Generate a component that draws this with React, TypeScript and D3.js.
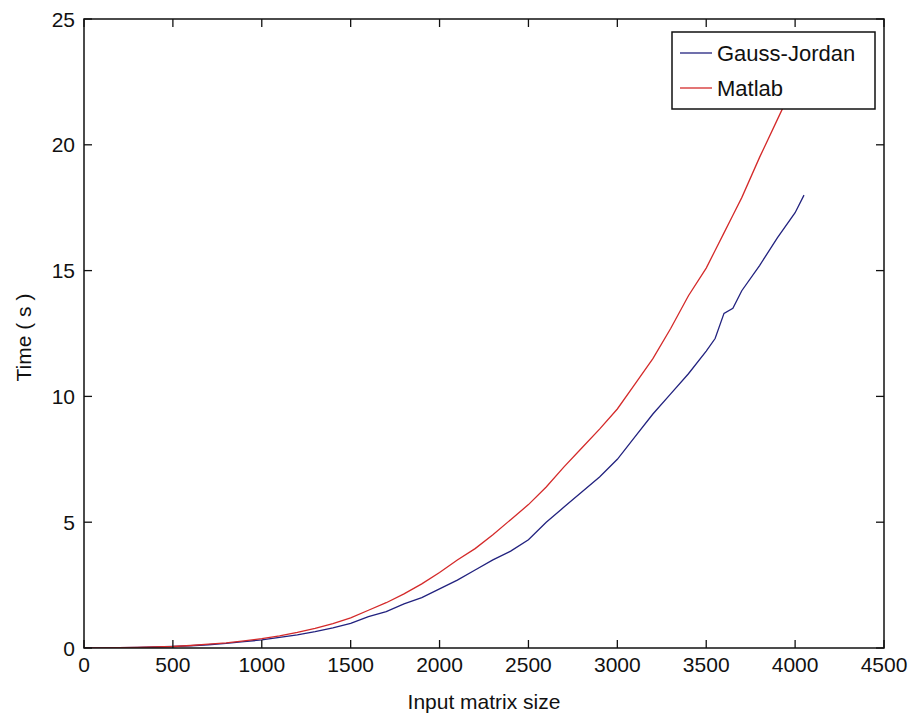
import React, { useEffect, useRef } from "react";
import * as d3 from "d3";

const sizes = [0, 100, 200, 300, 400, 500, 600, 700, 800, 900, 1000, 1100, 1200, 1300, 1400, 1500, 1600, 1700, 1800, 1900, 2000, 2100, 2200, 2300, 2400, 2500, 2600, 2700, 2800, 2900, 3000, 3100, 3200, 3300, 3400, 3500, 3550, 3600, 3650, 3700, 3800, 3900, 4000, 4050];
const gaussJordan = [0, 0.003, 0.01, 0.02, 0.04, 0.06, 0.09, 0.13, 0.18, 0.25, 0.32, 0.42, 0.52, 0.65, 0.8, 0.98, 1.25, 1.45, 1.75, 2.0, 2.35, 2.7, 3.1, 3.5, 3.85, 4.3, 5.0, 5.6, 6.2, 6.8, 7.5, 8.4, 9.3, 10.1, 10.9, 11.8, 12.3, 13.3, 13.5, 14.2, 15.2, 16.3, 17.3, 18.0];
const matlab = [0, 0.003, 0.01, 0.02, 0.04, 0.06, 0.1, 0.15, 0.2, 0.28, 0.37, 0.48, 0.62, 0.78, 0.97, 1.2, 1.5, 1.8, 2.15, 2.55, 3.0, 3.5, 3.95, 4.5, 5.1, 5.7, 6.4, 7.2, 7.95, 8.7, 9.5, 10.5, 11.5, 12.7, 14.0, 15.1, 15.8, 16.5, 17.2, 17.9, 19.5, 21.0, 22.5, 23.2];
const xTicks = [0, 500, 1000, 1500, 2000, 2500, 3000, 3500, 4000, 4500];
const yTicks = [0, 5, 10, 15, 20, 25];
const seriesNames = ["Gauss-Jordan", "Matlab"];
const seriesColors = ["#22227f", "#d42a2a"];

const W = 911, H = 717;
const L = 84, R = 884, T = 19, B = 648;
const FONT = "'Liberation Sans', Arial, sans-serif";

export default function App() {
  const ref = useRef<SVGSVGElement>(null);
  useEffect(() => {
    const svg = d3.select(ref.current);
    svg.selectAll("*").remove();
    const x = d3.scaleLinear().domain([0, 4500]).range([L, R]);
    const y = d3.scaleLinear().domain([0, 25]).range([B, T]);

    svg.append("rect").attr("width", W).attr("height", H).attr("fill", "#fff");

    const clip = svg.append("defs").append("clipPath").attr("id", "plotclip");
    clip.append("rect").attr("x", L).attr("y", T).attr("width", R - L).attr("height", B - T);

    const line = d3.line<[number, number]>().x(d => x(d[0])).y(d => y(d[1]));
    const data = [gaussJordan, matlab];
    data.forEach((vals, i) => {
      svg.append("path")
        .attr("d", line(sizes.map((s, j) => [s, vals[j]] as [number, number])) || "")
        .attr("fill", "none")
        .attr("stroke", seriesColors[i])
        .attr("stroke-width", 1.3)
        .attr("clip-path", "url(#plotclip)");
    });

    // frame
    svg.append("rect").attr("x", L).attr("y", T).attr("width", R - L).attr("height", B - T)
      .attr("fill", "none").attr("stroke", "#111").attr("stroke-width", 1.5);

    const tl = 8;
    const g = svg.append("g").attr("stroke", "#111").attr("stroke-width", 1.3);
    xTicks.forEach(t => {
      g.append("line").attr("x1", x(t)).attr("x2", x(t)).attr("y1", B).attr("y2", B - tl);
      g.append("line").attr("x1", x(t)).attr("x2", x(t)).attr("y1", T).attr("y2", T + tl);
    });
    yTicks.forEach(t => {
      g.append("line").attr("x1", L).attr("x2", L + tl).attr("y1", y(t)).attr("y2", y(t));
      g.append("line").attr("x1", R).attr("x2", R - tl).attr("y1", y(t)).attr("y2", y(t));
    });

    const txt = svg.append("g").attr("font-family", FONT).attr("font-size", 21).attr("fill", "#111");
    xTicks.forEach(t => {
      txt.append("text").attr("x", x(t)).attr("y", 672).attr("text-anchor", "middle").text(String(t));
    });
    yTicks.forEach(t => {
      txt.append("text").attr("x", 75).attr("y", y(t) + 7.5).attr("text-anchor", "end").text(String(t));
    });
    txt.append("text").attr("x", (L + R) / 2).attr("y", 709).attr("text-anchor", "middle").text("Input matrix size");
    txt.append("text").attr("transform", `translate(31,${(T + B) / 2 + 4}) rotate(-90)`).attr("text-anchor", "middle").text("Time ( s )");

    // legend
    const lg = svg.append("g");
    lg.append("rect").attr("x", 672).attr("y", 32).attr("width", 203).attr("height", 77)
      .attr("fill", "#fff").attr("stroke", "#111").attr("stroke-width", 1.5);
    const rows = [53, 88];
    seriesNames.forEach((n, i) => {
      lg.append("line").attr("x1", 680).attr("x2", 712).attr("y1", rows[i]).attr("y2", rows[i])
        .attr("stroke", seriesColors[i]).attr("stroke-width", 1.3);
      lg.append("text").attr("x", 717).attr("y", rows[i] + 7.5).attr("font-family", FONT)
        .attr("font-size", 22).attr("fill", "#111").text(n);
    });
  }, []);
  return (
    <svg ref={ref} width={W} height={H} style={{ position: "absolute", left: 0, top: 0, display: "block" }} />
  );
}
